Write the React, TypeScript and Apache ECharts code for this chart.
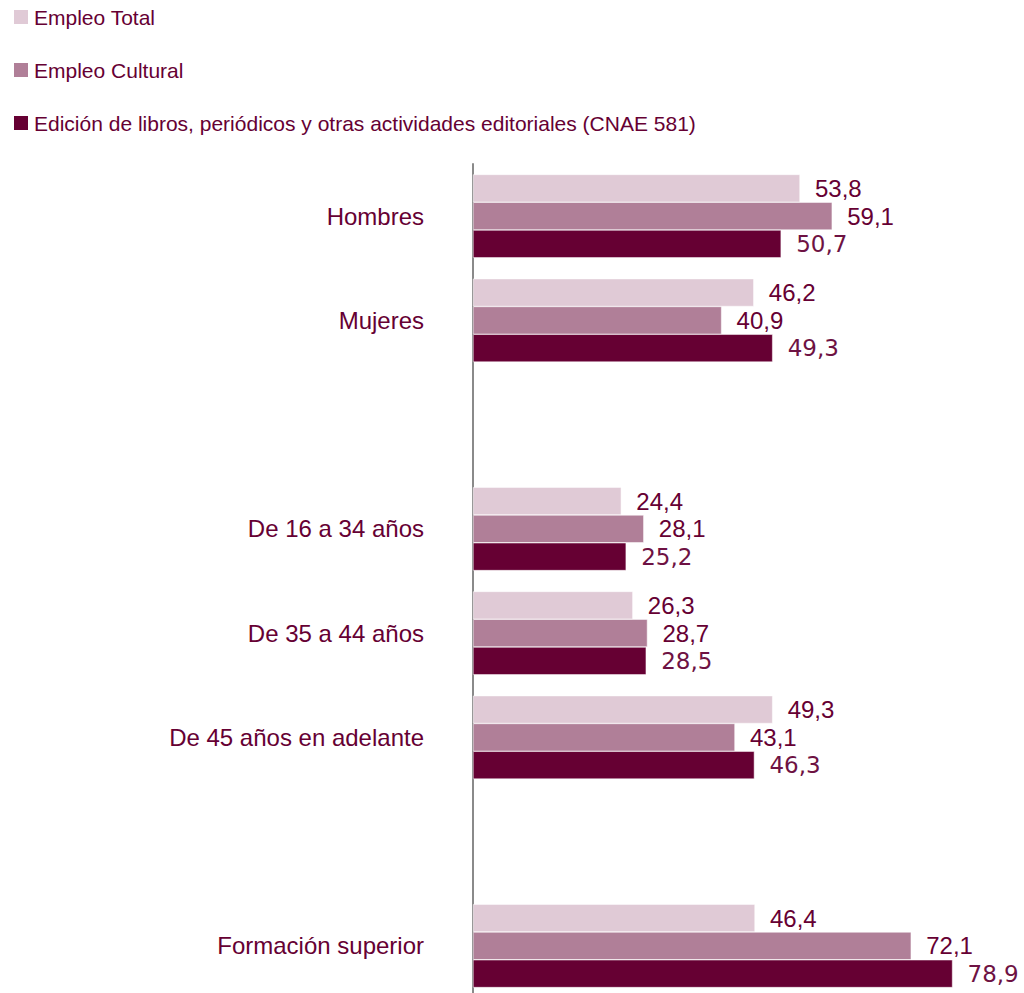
import React, { useEffect, useRef } from "react";
import * as echarts from "echarts";

const categories = [
  "Hombres",
  "Mujeres",
  "",
  "De 16 a 34 años",
  "De 35 a 44 años",
  "De 45 años en adelante",
  "",
  "Formación superior",
];
const seriesNames = [
  "Empleo Total",
  "Empleo Cultural",
  "Edición de libros, periódicos y otras actividades editoriales (CNAE 581)",
];
const empleoTotal = [53.8, 46.2, null, 24.4, 26.3, 49.3, null, 46.4];
const empleoCultural = [59.1, 40.9, null, 28.1, 28.7, 43.1, null, 72.1];
const edicion = [50.7, 49.3, null, 25.2, 28.5, 46.3, null, 78.9];
const colors = ["#e0cad6", "#b07f98", "#660033"];

const fmt = (p: any) =>
  p.value == null ? "" : Number(p.value).toFixed(1).replace(".", ",");

const ARIAL = "'Liberation Sans', Arial, sans-serif";

export default function App() {
  const ref = useRef<HTMLDivElement>(null);
  useEffect(() => {
    if (!ref.current) return;
    const chart = echarts.init(ref.current, undefined, { renderer: "svg" });
    const seriesData = [empleoTotal, empleoCultural, edicion];
    chart.setOption({
      animation: false,
      color: colors,
      legend: {
        orient: "vertical",
        left: 12,
        top: 5,
        padding: 0,
        itemWidth: 16,
        itemHeight: 16,
        itemGap: 29,
        icon: "rect",
        data: seriesNames,
        textStyle: {
          color: "#660033",
          fontSize: 21,
          lineHeight: 24,
          fontFamily: ARIAL,
        },
      },
      grid: { left: 473, top: 164, right: 4, height: 834 },
      xAxis: {
        type: "value",
        min: 0,
        max: 90,
        show: false,
      },
      yAxis: {
        type: "category",
        inverse: true,
        data: categories,
        axisLine: { show: true, lineStyle: { color: "#8a8a8a", width: 2 } },
        axisTick: { show: false },
        axisLabel: {
          margin: 49,
          fontSize: 24,
          color: "#660033",
          fontFamily: ARIAL,
        },
        splitLine: { show: false },
      },
      series: seriesNames.map((name, i) => ({
        name,
        type: "bar",
        data: seriesData[i],
        barCategoryGap: "20%",
        barGap: "0%",
        itemStyle: { color: colors[i], borderColor: "#ffffff", borderWidth: 0.5 },
        label: {
          show: true,
          position: "right",
          distance: 15,
          formatter: fmt,
          fontSize: i === 2 ? 23 : 24,
          color: i === 2 ? "#6e1243" : "#660033",
          fontFamily: i === 2 ? "'DejaVu Sans', sans-serif" : ARIAL,
          fontWeight: "normal",
        },
      })),
    });
    return () => chart.dispose();
  }, []);
  return (
    <div
      style={{
        position: "fixed",
        left: 0,
        top: 0,
        width: 1024,
        height: 993,
        overflow: "hidden",
        background: "#fff",
      }}
    >
      <div ref={ref} style={{ width: 1024, height: 1000 }} />
    </div>
  );
}
